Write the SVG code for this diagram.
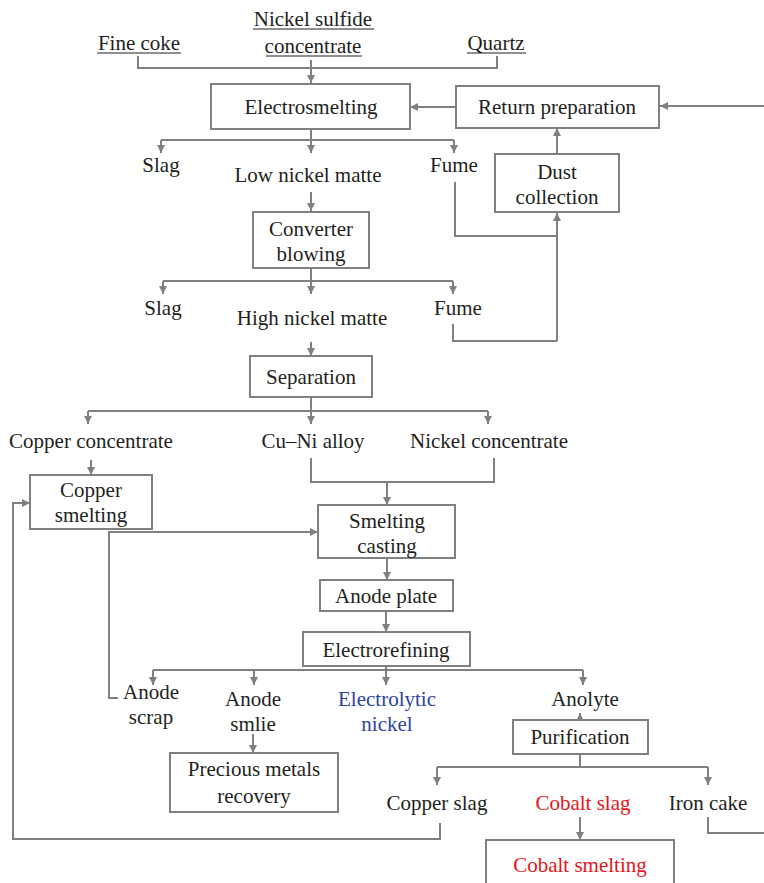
<svg xmlns="http://www.w3.org/2000/svg" width="764" height="883" viewBox="0 0 764 883">
<defs>
<marker id="ah" viewBox="0 0 10 10" refX="10" refY="5" markerWidth="4.5" markerHeight="4" orient="auto" markerUnits="strokeWidth">
<path d="M0,0 L10,5 L0,10 z" fill="#808080"/>
</marker>
<style>
.t text{font-size:21px;fill:#231f20;text-anchor:middle}
.box{fill:#fff;stroke:#808080;stroke-width:2}
.c{fill:none;stroke:#808080;stroke-width:2}
.a{marker-end:url(#ah)}
.ul{stroke:#231f20;stroke-width:1}
.t text.blue{fill:#2e44a0}
.t text.red{fill:#e8141b}
</style>
</defs>
<rect width="764" height="883" fill="#fff"/>

<g id="connectors">
<path class="c" d="M138,56 V68 H497 V56"/>
<path class="c a" d="M311,60 V83"/>
<path class="c a" d="M455,107 H410"/>
<path class="c a" d="M764,106 H660"/>
<path class="c" d="M311,129 V140 M161,140 H454"/>
<path class="c a" d="M161,140 V153"/>
<path class="c a" d="M311,140 V153"/>
<path class="c a" d="M454,140 V153"/>
<path class="c a" d="M557,154 V128"/>
<path class="c" d="M455,182 V236 H557"/>
<path class="c a" d="M557,341 V213"/>
<path class="c a" d="M311,192 V211"/>
<path class="c" d="M311,268 V281 M163,281 H453"/>
<path class="c a" d="M163,281 V294"/>
<path class="c a" d="M311,281 V294"/>
<path class="c a" d="M453,281 V294"/>
<path class="c" d="M453,324 V341 H557"/>
<path class="c a" d="M311,342 V356"/>
<path class="c" d="M311,397 V411 M88,411 H488"/>
<path class="c a" d="M88,411 V424"/>
<path class="c a" d="M311,411 V424"/>
<path class="c a" d="M488,411 V424"/>
<path class="c a" d="M91,460 V475"/>
<path class="c" d="M311,458 V482 H494 V458"/>
<path class="c a" d="M387,482 V505"/>
<path class="c a" d="M118,698 H109 V532 H318"/>
<path class="c a" d="M387,558 V580"/>
<path class="c a" d="M386,611 V632"/>
<path class="c" d="M386,666 V670 M153,670 H583"/>
<path class="c a" d="M153,670 V685"/>
<path class="c a" d="M254,670 V685"/>
<path class="c a" d="M386,670 V685"/>
<path class="c a" d="M583,670 V685"/>
<path class="c a" d="M253,734 V753"/>
<path class="c a" d="M580,720 V713"/>
<path class="c" d="M580,754 V767 M437,767 H708"/>
<path class="c a" d="M437,767 V785"/>
<path class="c a" d="M708,767 V785"/>
<path class="c a" d="M440,823 V839 H13 V503 H30"/>
<path class="c a" d="M580,817 V840"/>
<path class="c" d="M708,817 V833 H764"/>
</g>

<g class="t" font-family="'Liberation Serif', 'DejaVu Serif', serif">
<g id="fine-coke"><text x="139" y="50">Fine coke</text><line class="ul" x1="97" y1="53" x2="181" y2="53"/></g>
<g id="nickel-sulfide-concentrate"><text x="313" y="26">Nickel sulfide</text><line class="ul" x1="253" y1="29" x2="374" y2="29"/><text x="313" y="53">concentrate</text><line class="ul" x1="266" y1="56" x2="362" y2="56"/></g>
<g id="quartz"><text x="496" y="50">Quartz</text><line class="ul" x1="467" y1="53" x2="526" y2="53"/></g>

<g id="electrosmelting"><rect class="box" x="211" y="84" width="199" height="45"/><text x="311" y="114">Electrosmelting</text></g>
<g id="return-preparation"><rect class="box" x="456" y="86" width="203" height="42"/><text x="557" y="114">Return preparation</text></g>
<g id="slag1"><text x="161" y="172">Slag</text></g>
<g id="low-nickel-matte"><text x="308" y="182">Low nickel matte</text></g>
<g id="fume1"><text x="454" y="172">Fume</text></g>
<g id="dust-collection"><rect class="box" x="495" y="154" width="124" height="58"/><text x="557" y="179">Dust</text><text x="557" y="204">collection</text></g>
<g id="converter-blowing"><rect class="box" x="253" y="212" width="116" height="56"/><text x="311" y="236">Converter</text><text x="311" y="261">blowing</text></g>
<g id="slag2"><text x="163" y="315">Slag</text></g>
<g id="high-nickel-matte"><text x="312" y="325">High nickel matte</text></g>
<g id="fume2"><text x="458" y="315">Fume</text></g>
<g id="separation"><rect class="box" x="250" y="356" width="122" height="41"/><text x="311" y="384">Separation</text></g>
<g id="copper-concentrate"><text x="91" y="448">Copper concentrate</text></g>
<g id="cu-ni-alloy"><text x="313" y="448">Cu–Ni alloy</text></g>
<g id="nickel-concentrate"><text x="489" y="448">Nickel concentrate</text></g>
<g id="copper-smelting"><rect class="box" x="30" y="475" width="122" height="54"/><text x="91" y="497">Copper</text><text x="91" y="522">smelting</text></g>
<g id="smelting-casting"><rect class="box" x="318" y="505" width="137" height="53"/><text x="387" y="528">Smelting</text><text x="387" y="553">casting</text></g>
<g id="anode-plate"><rect class="box" x="320" y="580" width="133" height="31"/><text x="386" y="603">Anode plate</text></g>
<g id="electrorefining"><rect class="box" x="303" y="632" width="167" height="34"/><text x="386" y="657">Electrorefining</text></g>
<g id="anode-scrap"><text x="151" y="699">Anode</text><text x="151" y="724">scrap</text></g>
<g id="anode-smlie"><text x="253" y="706">Anode</text><text x="253" y="731">smlie</text></g>
<g id="electrolytic-nickel"><text class="blue" x="387" y="706">Electrolytic</text><text class="blue" x="387" y="731">nickel</text></g>
<g id="anolyte"><text x="585" y="706">Anolyte</text></g>
<g id="purification"><rect class="box" x="513" y="720" width="135" height="34"/><text x="580" y="744">Purification</text></g>
<g id="precious-metals-recovery"><rect class="box" x="170" y="753" width="168" height="59"/><text x="254" y="776">Precious metals</text><text x="254" y="803">recovery</text></g>
<g id="copper-slag"><text x="437" y="810">Copper slag</text></g>
<g id="cobalt-slag"><text class="red" x="583" y="810">Cobalt slag</text></g>
<g id="iron-cake"><text x="708" y="810">Iron cake</text></g>
<g id="cobalt-smelting"><rect class="box" x="486" y="840" width="188" height="60"/><text class="red" x="580" y="872">Cobalt smelting</text></g>
</g>
</svg>
